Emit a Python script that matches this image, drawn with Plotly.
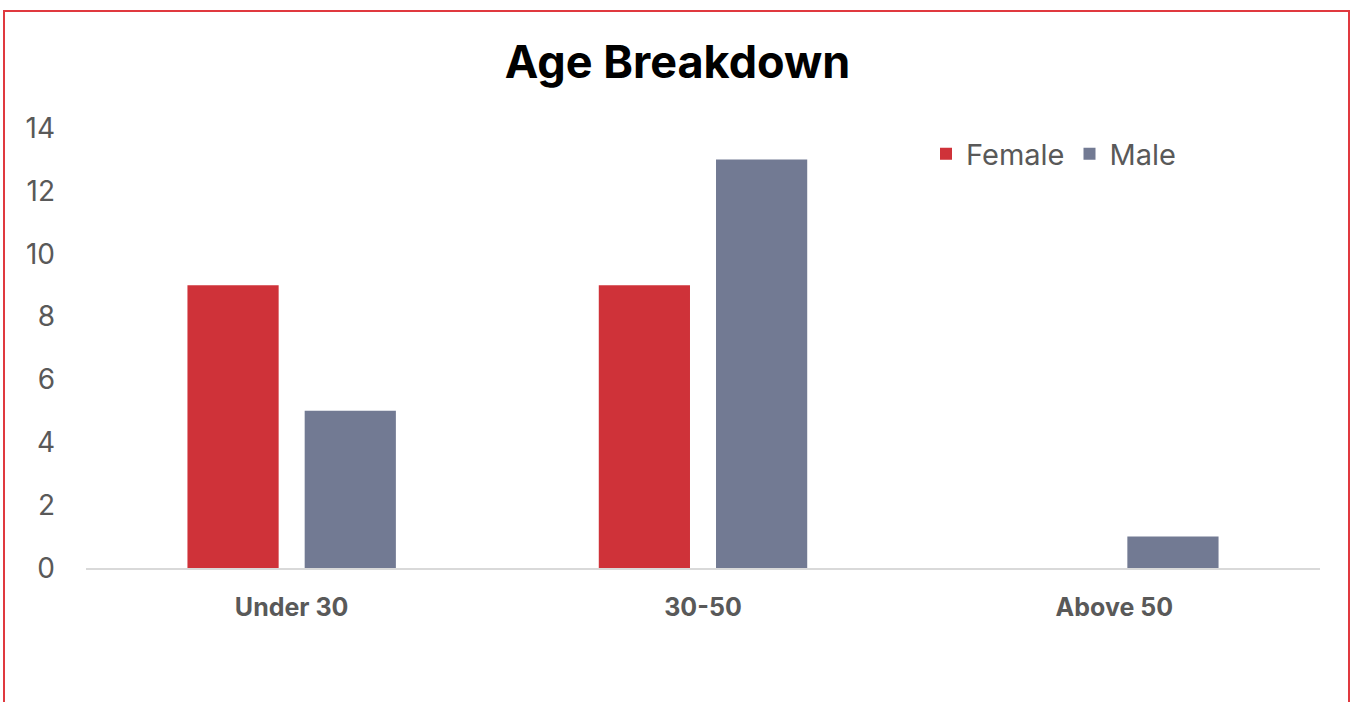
import plotly.graph_objects as go

categories = ["Under 30", "30-50", "Above 50"]
female = [9, 9, 0]
male = [5, 13, 1]
y_ticks = [0, 2, 4, 6, 8, 10, 12, 14]

W, H = 1355, 702
L, R, T, B = 86, 35, 128, 134
pw, ph = W - L - R, H - T - B

def px_x(x):
    return (x - L) / pw

def px_y(y):
    return (H - B - y) / ph

FONT = "Inter, Lato, sans-serif"

fig = go.Figure()
fig.add_trace(go.Bar(name="Female", x=categories, y=female,
                     marker=dict(color="#CF3239", line=dict(width=0))))
fig.add_trace(go.Bar(name="Male", x=categories, y=male,
                     marker=dict(color="#727A93", line=dict(width=0))))

fig.update_layout(
    width=W, height=H,
    margin=dict(l=L, r=R, t=T, b=B),
    paper_bgcolor="white", plot_bgcolor="white",
    barmode="group", bargap=0.43, bargroupgap=0.222,
    font=dict(family=FONT, color="#595959"),
    title=dict(text="<b>Age Breakdown</b>", x=0.5, xref="container", xanchor="center",
               y=1 - 62 / H, yanchor="middle",
               font=dict(size=45, color="black", family=FONT)),
    legend=dict(orientation="h", x=px_x(926), y=px_y(154), xanchor="left", yanchor="middle",
                font=dict(size=29, color="#595959"), traceorder="normal",
                bgcolor="rgba(0,0,0,0)", itemwidth=30),
    xaxis=dict(range=[-0.5, 2.5], showline=True, linecolor="#D9D9D9", linewidth=2,
               showgrid=False, ticks="", tickfont=dict(size=25, color="#595959", family=FONT),
               tickprefix="<b>", ticksuffix="</b>", ticklabelstandoff=16),
    yaxis=dict(range=[0, 14], tickvals=y_ticks, showgrid=False, zeroline=False, showline=False,
               tickfont=dict(size=28, color="#595959"), ticklabelstandoff=30),
    shapes=[dict(type="rect", xref="paper", yref="paper",
                 x0=px_x(4), x1=px_x(1349), y0=px_y(720), y1=px_y(11),
                 line=dict(color="#E0393F", width=2), layer="above")],
)

fig.write_html("out.html")
